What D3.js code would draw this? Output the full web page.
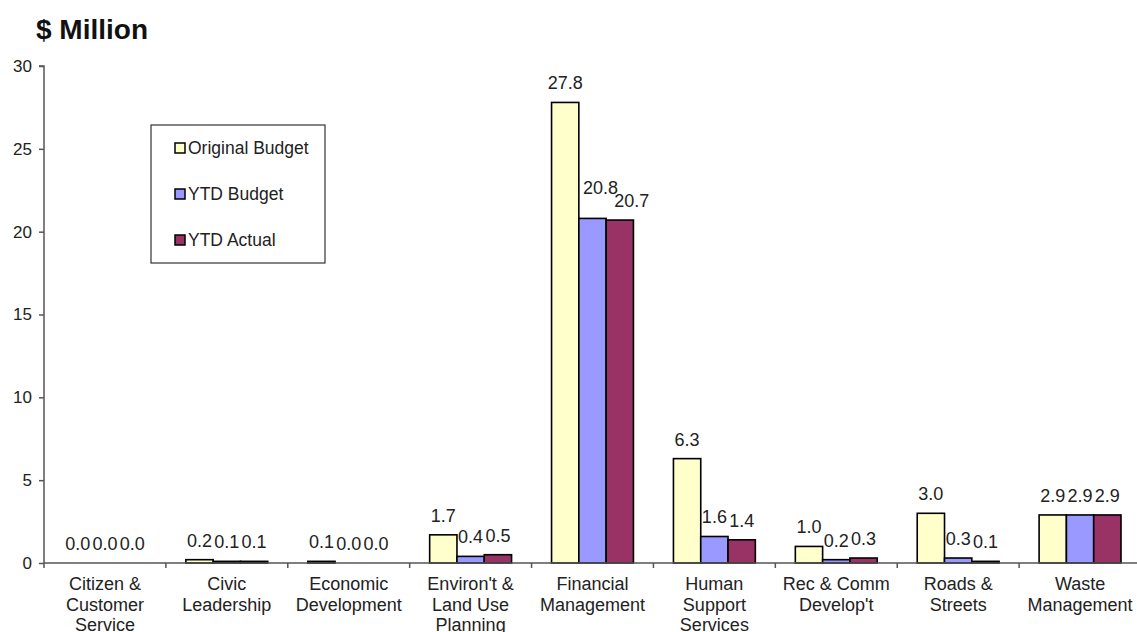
<!DOCTYPE html>
<html><head><meta charset="utf-8">
<script src="https://cdn.jsdelivr.net/npm/d3@7"></script>
<style>
html,body{margin:0;padding:0;background:#fff;}
text{font-family:"Liberation Sans",Arial,sans-serif;}
</style></head>
<body><svg id="chart" width="1137" height="632"></svg>
<script>
const categories = [
  ["Citizen &","Customer","Service"],
  ["Civic","Leadership"],
  ["Economic","Development"],
  ["Environ't &","Land Use","Planning"],
  ["Financial","Management"],
  ["Human","Support","Services"],
  ["Rec & Comm","Develop't"],
  ["Roads &","Streets"],
  ["Waste","Management"]
];
const seriesNames = ["Original Budget","YTD Budget","YTD Actual"];
const originalBudget = [0.0, 0.2, 0.1, 1.7, 27.8, 6.3, 1.0, 3.0, 2.9];
const ytdBudget      = [0.0, 0.1, 0.0, 0.4, 20.8, 1.6, 0.2, 0.3, 2.9];
const ytdActual      = [0.0, 0.1, 0.0, 0.5, 20.7, 1.4, 0.3, 0.1, 2.9];
const yTicks = [0, 5, 10, 15, 20, 25, 30];
const colors = ["#FFFFCC", "#9999FF", "#993366"];

const series = [originalBudget, ytdBudget, ytdActual];
const svg = d3.select("#chart");

const x0 = d3.scaleBand().domain(d3.range(categories.length)).range([44, 1141]).padding(0);
const x1 = d3.scaleBand().domain(d3.range(series.length)).range([20, x0.bandwidth() - 20]).padding(0);
const y = d3.scaleLinear().domain([0, 30]).range([563, 66]);

// title
svg.append("text").attr("x", 36).attr("y", 39).attr("font-size", 28).attr("font-weight", "bold")
  .attr("fill", "#111").text("$ Million");

// y axis
const yAxis = svg.append("g").attr("transform", "translate(44,0)")
  .call(d3.axisLeft(y).tickValues(yTicks).tickSize(5).tickPadding(7).tickFormat(d3.format("d")));
yAxis.select(".domain").attr("stroke", "#555").attr("stroke-width", 1.5).attr("d", "M-5,66H0V563");
yAxis.selectAll(".tick line").attr("stroke", "#555").attr("stroke-width", 1.5);
yAxis.selectAll(".tick text").attr("font-size", 17).attr("fill", "#222")
  .attr("font-family", "Liberation Sans, Arial, sans-serif");

// bars
const groups = svg.append("g").selectAll("g").data(categories).join("g")
  .attr("transform", (d, i) => `translate(${x0(i)},0)`);
groups.each(function(c, i) {
  const g = d3.select(this);
  series.forEach((s, k) => {
    const v = s[i];
    g.append("rect").attr("x", x1(k)).attr("width", x1.bandwidth())
      .attr("y", y(v)).attr("height", Math.max(0, y(0) - y(v)))
      .attr("fill", colors[k]).attr("stroke", "#000").attr("stroke-width", 1.6);
  });
  // data labels, with simple collision avoidance (raise a label that would collide with the next one)
  const labels = series.map((s, k) => {
    const v = s[i];
    return g.append("text").attr("x", x1(k) + x1.bandwidth() / 2).attr("y", y(v) - 13)
      .attr("text-anchor", "middle").attr("font-size", 18).attr("fill", "#222")
      .text(d3.format(".1f")(v));
  });
  for (let k = 0; k < labels.length - 1; k++) {
    const a = labels[k].node().getBBox(), b = labels[k + 1].node().getBBox();
    const hOverlap = a.x + a.width > b.x + 2;
    const vOverlap = Math.abs(a.y - b.y) < a.height * 0.8;
    if (hOverlap && vOverlap && a.width > x1.bandwidth() + 4) {
      labels[k].attr("y", +labels[k].attr("y") - 11).attr("x", +labels[k].attr("x") + 8);
      labels[k + 1].attr("x", +labels[k + 1].attr("x") + 12);
    }
  }
});

// x axis
const xAxisG = svg.append("g");
xAxisG.append("line").attr("x1", 44).attr("x2", 1141).attr("y1", y(0)).attr("y2", y(0))
  .attr("stroke", "#555").attr("stroke-width", 1.5);
xAxisG.selectAll("line.t").data(d3.range(categories.length + 1)).join("line")
  .attr("class", "t")
  .attr("x1", i => i < categories.length ? x0(i) : x0(i - 1) + x0.bandwidth())
  .attr("x2", i => i < categories.length ? x0(i) : x0(i - 1) + x0.bandwidth())
  .attr("y1", y(0)).attr("y2", y(0) + 5).attr("stroke", "#555").attr("stroke-width", 1.5);
categories.forEach((lines, i) => {
  const t = xAxisG.append("text").attr("text-anchor", "middle").attr("font-size", 18).attr("fill", "#222");
  lines.forEach((ln, j) => {
    t.append("tspan").attr("x", x0(i) + x0.bandwidth() / 2).attr("y", 590 + j * 20.5).text(ln);
  });
});

// legend
const lg = svg.append("g");
lg.append("rect").attr("x", 151).attr("y", 125).attr("width", 174).attr("height", 138)
  .attr("fill", "#fff").attr("stroke", "#333").attr("stroke-width", 1.2);
seriesNames.forEach((n, k) => {
  const cy = 148 + k * 46;
  lg.append("rect").attr("x", 175).attr("y", cy - 5).attr("width", 10).attr("height", 10)
    .attr("fill", colors[k]).attr("stroke", "#000").attr("stroke-width", 1.5);
  lg.append("text").attr("x", 188).attr("y", cy + 6).attr("font-size", 17.5).attr("fill", "#222").text(n);
});
</script></body></html>
